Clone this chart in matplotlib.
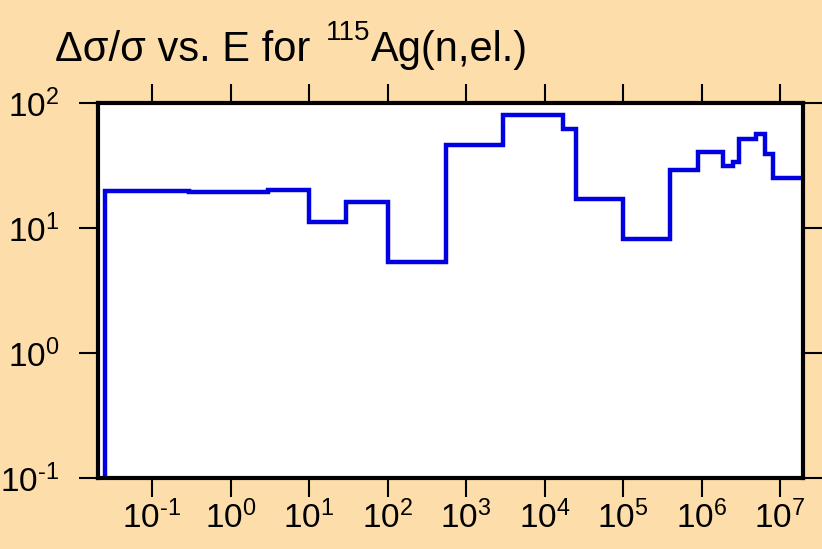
import matplotlib
matplotlib.use("Agg")
import matplotlib.pyplot as plt
import numpy as np

plt.rcParams['font.family'] = ['Liberation Sans', 'DejaVu Sans']
plt.rcParams['mathtext.fontset'] = 'custom'
plt.rcParams['mathtext.rm'] = 'Liberation Sans'
plt.rcParams['mathtext.it'] = 'Liberation Sans'

# Energy bin edges (eV) and relative uncertainty (%) per bin
energy_edges = [0.0253, 0.3, 3, 10, 30, 100, 550, 3000, 17000, 25000, 1e5, 4e5,
                9e5, 1.85e6, 2.5e6, 3e6, 4.9e6, 6.5e6, 8.1e6, 2e7]
rel_unc = [19.8, 19.4, 20.1, 11.2, 16.1, 5.35, 46, 80, 62, 17.1, 8.2, 29,
           40.8, 31.3, 33.5, 51.5, 57, 39, 25.2]

xtick_exps = ['-1', '0', '1', '2', '3', '4', '5', '6', '7']
ytick_exps = ['-1', '0', '1', '2']


def lab(e):
    e = e.replace('-', r'\text{-}')
    return r'$\mathregular{10^{' + e + '}}$'


bg = '#FDDEAB'
fig = plt.figure(figsize=(8.22, 5.49), dpi=100, facecolor=bg)
ax = fig.add_axes([98/822, 1-478/549, (803-98)/822, (478-103)/549])
ax.set_facecolor('white')

# build step curve
x = [energy_edges[0]] + list(energy_edges) + [energy_edges[-1]]
y = [0.01] + list(rel_unc) + [rel_unc[-1], 0.01]
ax.plot(x, y, drawstyle='steps-post', color='#0000E0', lw=3.2, solid_joinstyle='miter')

ax.set_xscale('log')
ax.set_yscale('log')
ax.set_xlim(0.0205, 1.96e7)
ax.set_ylim(0.1, 100)

ax.set_xticks([10.0 ** float(e) for e in xtick_exps])
ax.set_xticklabels([lab(e) for e in xtick_exps])
ax.set_yticks([10.0 ** float(e) for e in ytick_exps])
ax.set_yticklabels([lab(e) for e in ytick_exps])
ax.minorticks_off()
ax.tick_params(axis='both', which='major', direction='out', length=14, width=1.5,
               labelsize=24, top=True, right=True, color='black')
ax.tick_params(axis='x', pad=2)
ax.tick_params(axis='y', pad=14)
for s in ax.spines.values():
    s.set_linewidth(3)
    s.set_color('black')

# title built from pieces so the superscript can be smaller
fig.canvas.draw()
r = fig.canvas.get_renderer()
x0 = 55 / 822
yb = 1 - 61 / 549
t1 = fig.text(x0, yb, 'Δσ/σ vs. E for ', fontsize=30, ha='left', va='baseline')
w1 = t1.get_window_extent(r).width / 822 + 4 / 822
t2 = fig.text(x0 + w1, yb + 21 / 549, '115', fontsize=20, ha='left', va='baseline')
w2 = t2.get_window_extent(r).width / 822
fig.text(x0 + w1 + w2, yb, 'Ag(n,el.)', fontsize=30, ha='left', va='baseline')

fig.savefig('out.png', dpi=100, facecolor=bg)
